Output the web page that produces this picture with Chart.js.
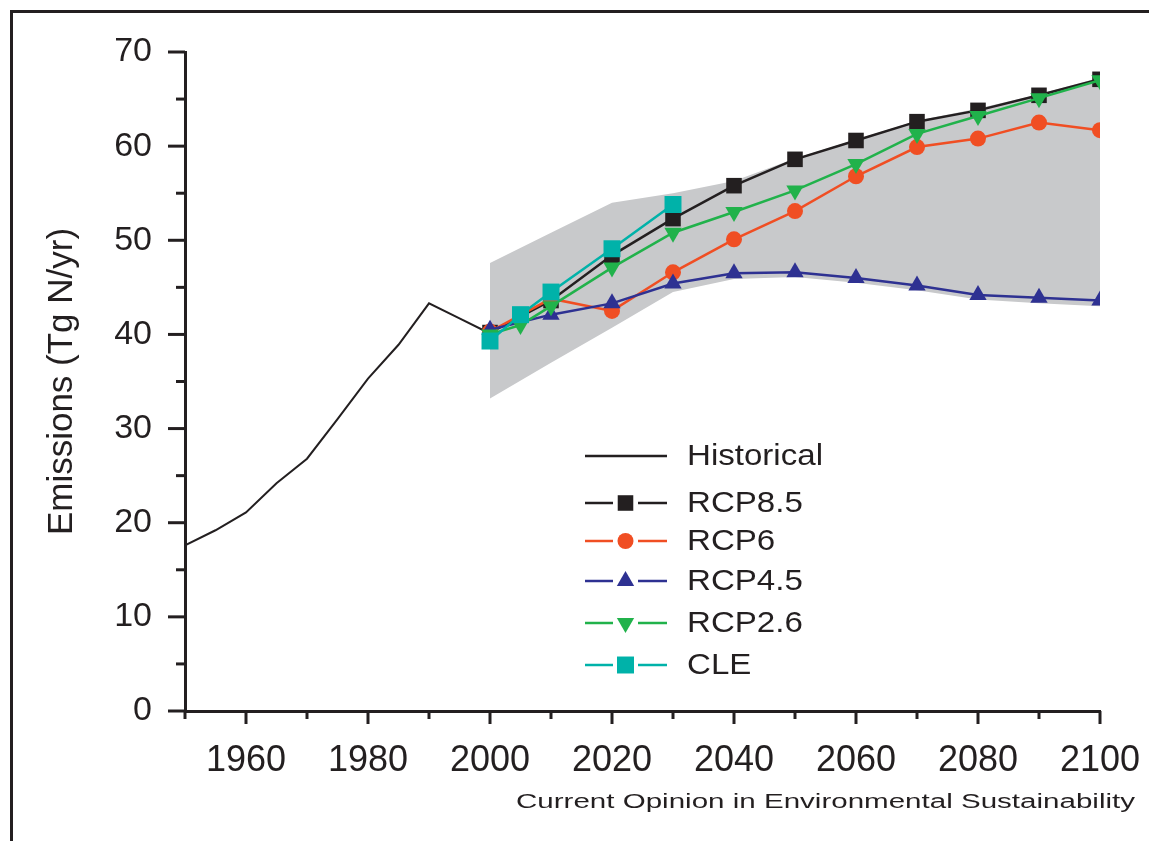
<!DOCTYPE html>
<html><head><meta charset="utf-8">
<script src="https://cdn.jsdelivr.net/npm/chart.js@4.4.0/dist/chart.umd.min.js"></script>
<style>
html,body{margin:0;padding:0;background:#fff;}
#wrap{position:relative;width:1149px;height:841px;overflow:hidden;background:#fff;}
#frame{position:absolute;left:10px;top:10px;width:1200px;height:900px;border-top:3px solid #231f20;border-left:3px solid #231f20;}
canvas{position:absolute;left:0;top:0;}
</style></head><body>
<div id="wrap"><div id="frame"></div><canvas id="c" width="1149" height="841"></canvas></div>
<script>
// ---- data ----
const histYears = [1950, 1955, 1960, 1965, 1970, 1975, 1980, 1985, 1990, 1995, 2000];
const historical = [17.6, 19.2, 21.1, 24.2, 26.8, 31.0, 35.3, 38.9, 43.3, 41.7, 40.1];

const rcpYears = [2000, 2010, 2020, 2030, 2040, 2050, 2060, 2070, 2080, 2090, 2100];
const rcp85 = [40.2, 43.6, 48.4, 52.3, 55.8, 58.6, 60.6, 62.6, 63.8, 65.4, 67.1];
const rcp6  = [40.3, 43.8, 42.5, 46.6, 50.1, 53.1, 56.8, 59.9, 60.8, 62.5, 61.7];
const rcp45 = [40.5, 42.1, 43.3, 45.4, 46.5, 46.6, 46.0, 45.2, 44.2, 43.9, 43.6];

const rcp26Years = [2000, 2005, 2010, 2020, 2030, 2040, 2050, 2060, 2070, 2080, 2090, 2100];
const rcp26 = [40.0, 41.0, 43.0, 47.1, 50.8, 53.0, 55.3, 58.1, 61.3, 63.2, 65.1, 67.0];

const cleYears = [2000, 2005, 2010, 2020, 2030];
const cle = [39.3, 42.1, 44.5, 49.1, 53.8];

const bandYears = [2000, 2010, 2020, 2030, 2040, 2050, 2060, 2070, 2080, 2090, 2100];
const bandUpper = [47.6, 50.8, 54.0, 55.0, 56.3, 58.7, 60.7, 62.7, 64.0, 65.5, 67.3];
const bandLower = [33.2, 37.0, 40.7, 44.5, 45.9, 46.1, 45.5, 44.7, 43.7, 43.3, 43.0];

const xTickValues = [1960, 1980, 2000, 2020, 2040, 2060, 2080, 2100];
const yTickValues = [0, 10, 20, 30, 40, 50, 60, 70];
const yAxisTitle = 'Emissions (Tg N/yr)';
const footerText = 'Current Opinion in Environmental Sustainability';

// ---- styles ----
const FAMILY = "'Liberation Sans', Arial, Helvetica, sans-serif";
const INK = '#231f20';
const C85 = '#231f20', C6 = '#f04e23', C45 = '#2e3192', C26 = '#21b24b', CCLE = '#00b2a9';

function pts(xs, ys) { return xs.map((x, i) => ({x: x, y: ys[i]})); }

const legendRows = [
  {label: 'Historical', color: INK, marker: null, y: 456},
  {label: 'RCP8.5', color: C85, marker: {pointStyle: 'rect', radius: 11, rotation: 0}, y: 503},
  {label: 'RCP6', color: C6, marker: {pointStyle: 'circle', radius: 8, rotation: 0}, y: 541},
  {label: 'RCP4.5', color: C45, marker: {pointStyle: 'triangle', radius: 10, rotation: 0}, y: 581},
  {label: 'RCP2.6', color: C26, marker: {pointStyle: 'triangle', radius: 10, rotation: 180}, y: 623},
  {label: 'CLE', color: CCLE, marker: {pointStyle: 'rect', radius: 12, rotation: 0}, y: 665}
];

const decor = {
  id: 'decor',
  afterDraw(chart) {
    const ctx = chart.ctx;
    const xs = chart.scales.x, ys = chart.scales.y;
    const ca = chart.chartArea;
    ctx.save();
    ctx.strokeStyle = INK;
    ctx.lineWidth = 3;
    ctx.lineCap = 'butt';
    // y ticks (major every 10, minor every 5)
    for (let v = 0; v <= 70; v += 5) {
      const py = ys.getPixelForValue(v);
      const len = (v % 10 === 0) ? 17 : 9;
      ctx.beginPath(); ctx.moveTo(ca.left - len, py); ctx.lineTo(ca.left, py); ctx.stroke();
    }
    // x ticks (major every 20, minor every 10)
    for (let v = 1950; v <= 2100; v += 10) {
      const px = xs.getPixelForValue(v);
      const len = (v % 20 === 0) ? 13 : 8;
      ctx.beginPath(); ctx.moveTo(px, ca.bottom); ctx.lineTo(px, ca.bottom + len); ctx.stroke();
    }
    // legend
    ctx.font = '30px ' + FAMILY;
    const sx = 136 / ctx.measureText('Historical').width;
    legendRows.forEach(r => {
      ctx.strokeStyle = r.color;
      ctx.fillStyle = r.color;
      ctx.lineWidth = 2.5;
      if (r.marker) {
        ctx.beginPath(); ctx.moveTo(585, r.y); ctx.lineTo(613, r.y); ctx.stroke();
        ctx.beginPath(); ctx.moveTo(638, r.y); ctx.lineTo(667, r.y); ctx.stroke();
        Chart.helpers.drawPoint(ctx, {pointStyle: r.marker.pointStyle, radius: r.marker.radius, rotation: r.marker.rotation, borderWidth: 0}, 625.5, r.y);
      } else {
        ctx.beginPath(); ctx.moveTo(585, r.y); ctx.lineTo(667, r.y); ctx.stroke();
      }
      ctx.save();
      ctx.fillStyle = INK;
      ctx.textBaseline = 'middle';
      ctx.textAlign = 'left';
      ctx.translate(687, r.y);
      ctx.scale(sx, 1);
      ctx.fillText(r.label, 0, 1);
      ctx.restore();
    });
    // footer
    ctx.font = '20px ' + FAMILY;
    const fw = ctx.measureText(footerText).width;
    ctx.fillStyle = INK;
    ctx.textBaseline = 'middle';
    ctx.translate(516, 802);
    ctx.scale(619 / fw, 1);
    ctx.fillText(footerText, 0, 0);
    ctx.restore();
  }
};

const ptBase = {borderWidth: 2.5, pointBorderWidth: 0, tension: 0, fill: false};

new Chart(document.getElementById('c').getContext('2d'), {
  type: 'line',
  data: {
    datasets: [
      {label: 'bandUpper', data: pts(bandYears, bandUpper), borderWidth: 0, pointRadius: 0, backgroundColor: '#c8c9cb', borderColor: 'rgba(0,0,0,0)', fill: '+1', order: 8},
      {label: 'bandLower', data: pts(bandYears, bandLower), borderWidth: 0, pointRadius: 0, borderColor: 'rgba(0,0,0,0)', fill: false, order: 9},
      {label: 'Historical', data: pts(histYears, historical), borderColor: INK, borderWidth: 2, pointRadius: 0, fill: false, order: 6},
      Object.assign({label: 'RCP8.5', data: pts(rcpYears, rcp85), borderColor: C85, backgroundColor: C85, pointStyle: 'rect', pointRadius: 11, order: 5}, ptBase),
      Object.assign({label: 'RCP6', data: pts(rcpYears, rcp6), borderColor: C6, backgroundColor: C6, pointStyle: 'circle', pointRadius: 8, order: 4}, ptBase),
      Object.assign({label: 'RCP4.5', data: pts(rcpYears, rcp45), borderColor: C45, backgroundColor: C45, pointStyle: 'triangle', pointRadius: 10, order: 3}, ptBase),
      Object.assign({label: 'RCP2.6', data: pts(rcp26Years, rcp26), borderColor: C26, backgroundColor: C26, pointStyle: 'triangle', pointRotation: 180, pointRadius: 10, order: 2}, ptBase),
      Object.assign({label: 'CLE', data: pts(cleYears, cle), borderColor: CCLE, backgroundColor: CCLE, pointStyle: 'rect', pointRadius: 12, order: 1}, ptBase)
    ]
  },
  options: {
    responsive: false,
    animation: false,
    devicePixelRatio: 1,
    events: [],
    layout: {padding: {top: 52, right: 49, bottom: 0, left: 0}},
    plugins: {legend: {display: false}, tooltip: {enabled: false}},
    scales: {
      x: {
        type: 'linear', min: 1950, max: 2100,
        afterBuildTicks: s => { s.ticks = xTickValues.map(v => ({value: v})); },
        afterFit: s => { s.height = 130; s.paddingLeft = 0; s.paddingRight = 0; },
        grid: {display: false},
        border: {display: true, color: INK, width: 3},
        ticks: {font: {family: FAMILY, size: 36}, color: INK, padding: 20, maxRotation: 0, autoSkip: false, callback: v => String(v)}
      },
      y: {
        type: 'linear', min: 0, max: 70,
        afterBuildTicks: s => { s.ticks = yTickValues.map(v => ({value: v})); },
        afterFit: s => { s.width = 185; s.paddingTop = 0; s.paddingBottom = 0; },
        grid: {display: false},
        border: {display: true, color: INK, width: 3},
        ticks: {font: {family: FAMILY, size: 34}, color: INK, padding: 25, autoSkip: false, callback: v => String(v)},
        title: {display: true, text: yAxisTitle, color: INK, font: {family: FAMILY, size: 35}, padding: {top: 41, bottom: 0}}
      }
    }
  },
  plugins: [decor]
});
</script>
</body></html>
